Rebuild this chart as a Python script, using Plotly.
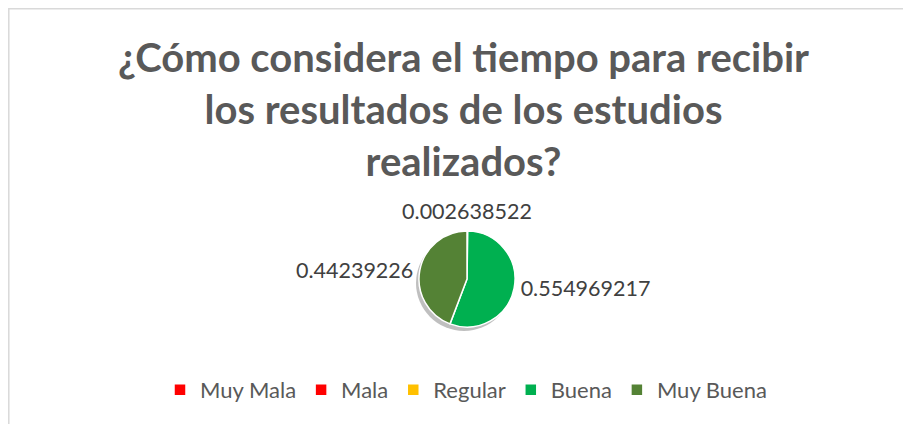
import plotly.graph_objects as go

categories = ["Muy Mala", "Mala", "Regular", "Buena", "Muy Buena"]
values = [0.0, 0.0, 0.002638522, 0.554969217, 0.44239226]
value_labels = ["", "", "0.002638522", "0.554969217", "0.44239226"]
colors = ["#FF0000", "#FF0000", "#FFC000", "#00B050", "#548235"]

TITLE = "¿Cómo considera el tiempo para recibir<br>los resultados de los estudios<br>realizados?"

W, H = 911, 424
# page body adds an 8px margin, so positions are in figure pixels
cx, cy, r = 459, 271, 48
TOP_LABEL_SPACE = 26  # room the pie title takes above the pie
PULL = 0.15  # pull on an empty slice, lifts the top label a little


def px_domain(cx, cy, half_h, top_extra=0, half_w=None):
    half_w = half_w or half_h
    return dict(
        x=[(cx - half_w) / W, (cx + half_w) / W],
        y=[(H - cy - half_h) / H, (H - cy + half_h + top_extra) / H],
    )


label_font = dict(family="Lato", size=21.5, color="#404040")

# the tiny top slice gets its label centred above the pie (pie title),
# the others are placed outside by plotly
top_label = value_labels[2]
slice_text = [t if i != 2 else "" for i, t in enumerate(value_labels)]

fig = go.Figure()

# soft shadow under the pie
fig.add_trace(
    go.Pie(
        values=[1],
        marker=dict(colors=["rgba(0,0,0,0.25)"], line=dict(width=0)),
        domain=px_domain(cx - 3, cy + 4, r),
        textinfo="none",
        hoverinfo="skip",
        showlegend=False,
        sort=False,
    )
)

fig.add_trace(
    go.Pie(
        labels=categories,
        values=values,
        text=slice_text,
        textinfo="text",
        textposition="outside",
        sort=False,
        direction="clockwise",
        rotation=0,
        pull=[PULL, 0, 0, 0, 0],
        marker=dict(colors=colors, line=dict(color="white", width=1.5)),
        outsidetextfont=label_font,
        title=dict(text=top_label, position="top center", font=label_font),
        domain=px_domain(
            cx, cy, r * (1 + PULL), top_extra=TOP_LABEL_SPACE, half_w=80
        ),
        showlegend=True,
    )
)

fig.update_layout(
    width=W,
    height=H,
    margin=dict(l=0, r=0, t=0, b=0),
    paper_bgcolor="white",
    title=dict(
        text=TITLE,
        x=0.5,
        xanchor="center",
        y=1 - 64 / H,
        yanchor="middle",
        font=dict(family="Lato", size=40, color="#595959", weight="bold"),
    ),
    legend=dict(
        orientation="h",
        x=458 / W,
        xanchor="center",
        y=42 / H,
        yanchor="middle",
        font=dict(family="Lato", size=22, color="#595959"),
        traceorder="normal",
    ),
    shapes=[
        dict(
            type="rect",
            xref="paper",
            yref="paper",
            x0=0.8 / W,
            x1=1.05,
            y0=-0.05,
            y1=1 - 0.8 / H,
            line=dict(color="#D9D9D9", width=1.5),
            layer="below",
        )
    ],
)

fig.write_html("out.html")
